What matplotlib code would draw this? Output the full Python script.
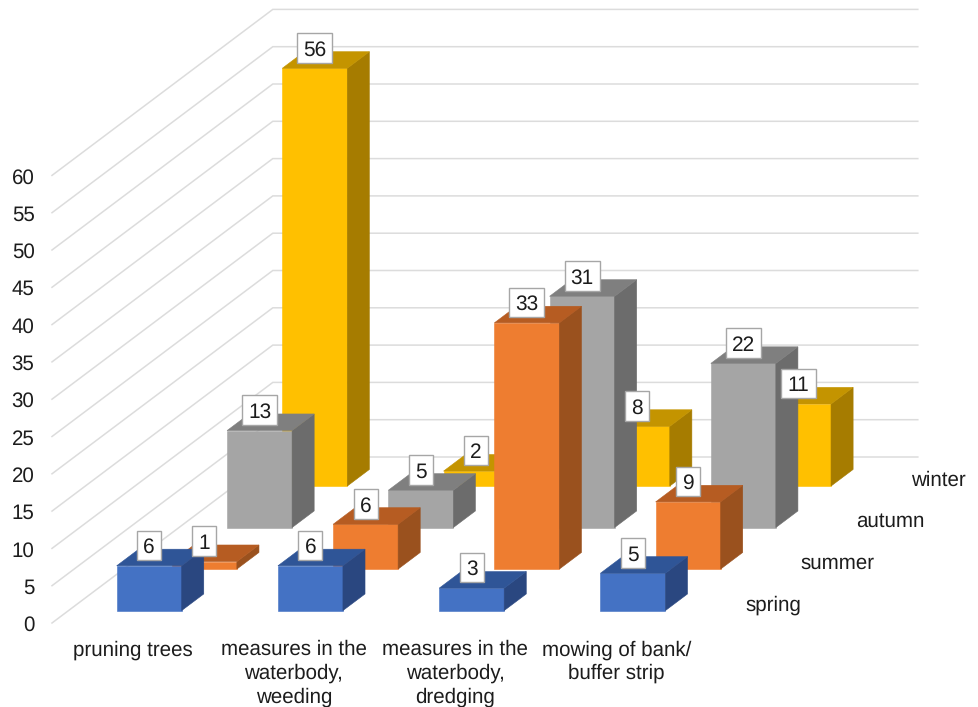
import matplotlib
matplotlib.use("Agg")
import matplotlib.pyplot as plt
from matplotlib.patches import Polygon, Rectangle

plt.rcParams['font.family'] = ['Liberation Sans', 'DejaVu Sans']
plt.rcParams['text.hinting'] = 'no_hinting'

# Survey counts per maintenance measure and season
categories = ["pruning trees",
              "measures in the\nwaterbody,\nweeding",
              "measures in the\nwaterbody,\ndredging",
              "mowing of bank/\nbuffer strip"]
seasons = ["spring", "summer", "autumn", "winter"]
spring = [6, 6, 3, 5]
summer = [1, 6, 33, 9]
autumn = [13, 5, 31, 22]
winter = [56, 2, 8, 11]
value_ticks = list(range(0, 65, 5))

series = [spring, summer, autumn, winter]
front_colors = ["#4472C4", "#EE7D30", "#A5A5A5", "#FFC000"]
top_colors = ["#2F5597", "#B65C22", "#7F7F7F", "#C49400"]
side_colors = ["#2A4780", "#9A511E", "#6C6C6C", "#A67C00"]
grid_color = "#DCDCDC"
text_color = "#1C1C1C"

# Pixel scale of the chart box
W, H = 979, 707
CAT_PX = 161.25      # width of one category
VAL_PX = 7.46        # height of one value unit
X0, Y0 = 52.0, 623.0 # front-left floor corner
DEPTH_DX, DEPTH_DY = 55.2, 41.5  # oblique shift of one season row
BAR_W = 65 / CAT_PX
BAR_D = 0.4
PT = 0.72            # points per screen pixel at 100 dpi
FONT = 14.8

fig = plt.figure(figsize=(W / 100, H / 100), dpi=100)
ax = fig.add_axes([0, 0, 1, 1])
ax.set_xlim(-X0 / CAT_PX, (W - X0) / CAT_PX)
ax.set_ylim((Y0 - H) / VAL_PX, Y0 / VAL_PX)
ax.axis("off")


def proj(cat, depth, value):
    """Oblique projection of (category, season row, value) onto the axes."""
    return (cat + depth * DEPTH_DX / CAT_PX,
            value + depth * DEPTH_DY / VAL_PX)


def px(dx, dy):
    """Screen-pixel offsets expressed in data units."""
    return dx / CAT_PX, dy / VAL_PX


# Side wall and back wall gridlines
for v in value_ticks:
    a = proj(0, 0, v)
    b = proj(0, 4, v)
    c = proj(4, 4, v)
    ax.plot([a[0], b[0], c[0]], [a[1], b[1], c[1]], color=grid_color,
            lw=1.1, zorder=1, solid_joinstyle="miter")
    ax.annotate(str(v), xy=a, xytext=(-17.5 * PT, -2.5 * PT),
                textcoords="offset points", ha="right", va="center",
                fontsize=FONT, color=text_color)

# Bars, painted from the back row to the front row
z = 2
for d in range(3, -1, -1):
    for c, val in enumerate(series[d]):
        left = c + (1 - BAR_W) / 2
        right = left + BAR_W
        near, far = d + 0.3, d + 0.3 + BAR_D
        faces = [
            ([proj(left, near, 0), proj(right, near, 0),
              proj(right, near, val), proj(left, near, val)], front_colors[d]),
            ([proj(right, near, 0), proj(right, far, 0),
              proj(right, far, val), proj(right, near, val)], side_colors[d]),
            ([proj(left, near, val), proj(right, near, val),
              proj(right, far, val), proj(left, far, val)], top_colors[d]),
        ]
        for pts, col in faces:
            ax.add_patch(Polygon(pts, closed=True, facecolor=col, edgecolor=col,
                                 lw=0.4, zorder=z))
        z += 1

# Value labels sit in white boxes above each bar's front edge
for d, values in enumerate(series):
    for c, val in enumerate(values):
        left = c + (1 - BAR_W) / 2
        x, y = proj(left + BAR_W / 2, d + 0.3, val)
        off_x, off_y = px(0, 20.5)
        txt = str(val)
        w_px = 24 if len(txt) == 1 else 35
        bw, bh = px(w_px, 29.5)
        ax.add_patch(Rectangle((x - bw / 2, y + off_y - bh / 2), bw, bh,
                               facecolor="white", edgecolor="#A6A6A6",
                               lw=1.0, zorder=200))
        ax.text(x, y + off_y, txt, ha="center", va="center_baseline",
                fontsize=FONT + 0.2, color=text_color, zorder=201)

# Category labels under the floor
for c, name in enumerate(categories):
    x, y = proj(c + 0.5, 0, 0)
    ax.annotate(name, xy=(x, y), xytext=(0, -17 * PT),
                textcoords="offset points", ha="center", va="top",
                fontsize=FONT, color=text_color, linespacing=1.27)

# Season labels beside the floor's right edge
for d, name in enumerate(seasons):
    x, y = proj(4, d + 0.5, 0)
    ax.annotate(name, xy=(x, y), xytext=(21 * PT, -2.5 * PT),
                textcoords="offset points", ha="left", va="center",
                fontsize=FONT, color=text_color)

fig.savefig("out.png", dpi=100, facecolor="white")
